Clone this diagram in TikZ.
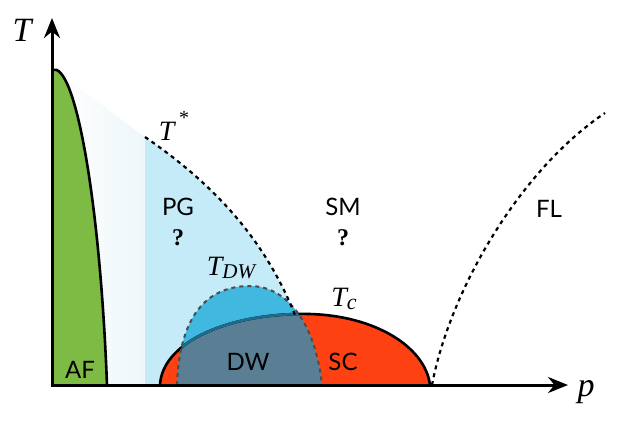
\documentclass[tikz,border=0pt]{standalone}
\usepackage{fontspec}
\setmainfont{Liberation Serif}
\newfontfamily\labfont{Lato}
\usetikzlibrary{arrows.meta}
\definecolor{afgreen}{HTML}{7DBB45}
\definecolor{pgblue}{HTML}{C6EBF8}
\definecolor{faint}{HTML}{EEF7FA}
\definecolor{scred}{HTML}{FE4113}
\definecolor{dwblue}{HTML}{40B8E0}
\definecolor{dwgray}{HTML}{5A7F94}
\definecolor{teal}{HTML}{1D6C8C}
\tikzset{
  region/.style={font=\labfont\fontsize{24}{28}\selectfont},
  qmark/.style={font=\bfseries\fontsize{24}{28}\selectfont},
  tlabel/.style={font=\itshape\fontsize{28}{32}\selectfont},
  axislab/.style={font=\itshape\fontsize{34}{38}\selectfont},
  axisline/.style={line width=3pt,-{Stealth[length=20pt,width=16pt]}},
  boundary/.style={line width=2.6pt},
  dotline/.style={line width=2.2pt,dash pattern=on 4pt off 4pt},
}
\begin{document}
\begin{tikzpicture}[x=1pt,y=-1pt]
\useasboundingbox (0,0) rectangle (623,431);
% faint region
\shade[left color=white,right color=faint] (52,68) -- (145,137) -- (145,385) -- (52,385) -- cycle;
% pseudogap
\fill[pgblue] (145,137) .. controls (215,185) and (265,240) .. (295,315) -- (322,385) -- (145,385) -- cycle;
% SC dome
\fill[scred] (160,385) .. controls (162,345) and (220,316) .. (297,314)
  .. controls (370,312) and (425,345) .. (430,385) -- cycle;
% DW dome
\begin{scope}
\clip (177,385) .. controls (180,300) and (220,286) .. (250,286)
  .. controls (285,286) and (315,320) .. (322,385) -- cycle;
\fill[dwblue] (170,280) rectangle (330,386);
\fill[dwgray] (160,385) .. controls (162,345) and (220,316) .. (297,314)
  .. controls (370,312) and (425,345) .. (430,385) -- cycle;
\end{scope}
% SC boundary
\draw[boundary] (160,385) .. controls (162,345) and (220,316) .. (297,314)
  .. controls (370,312) and (425,345) .. (430,385);
\begin{scope}
\clip (177,385) .. controls (180,300) and (220,286) .. (250,286)
  .. controls (285,286) and (315,320) .. (322,385) -- cycle;
\draw[boundary,teal] (160,385) .. controls (162,345) and (220,316) .. (297,314)
  .. controls (370,312) and (425,345) .. (430,385);
\end{scope}
% DW outline
\draw[dotline,black!70,line width=2pt] (177,385) .. controls (180,300) and (220,286) .. (250,286)
  .. controls (285,286) and (315,320) .. (322,385);
% T* line
\draw[dotline] (145,137) .. controls (215,185) and (265,240) .. (295,315);
% FL line
\draw[dotline] (432,385) .. controls (450,290) and (520,170) .. (605,113);
% AF
\fill[afgreen] (52,385) -- (52,70) .. controls (75,60) and (100,200) .. (107,385) -- cycle;
\draw[boundary] (52,70) .. controls (75,60) and (100,200) .. (107,385);
% axes
\coordinate (O) at (52,385);
\coordinate (Ttip) at (52,18);
\coordinate (ptip) at (568,385);
\draw[axisline] (O) -- (Ttip);
\draw[axisline] ([xshift=-1.5pt]O) -- (ptip);
% labels
\node[axislab] (Tlab) at (22,30) {T};
\node[axislab] (plab) at (586,392) {p};
\node[tlabel] (Tstar) at (174,126) {T\,\raisebox{1.2ex}{\fontsize{20}{20}\selectfont\upshape*}};
\node[tlabel] (Tdw) at (231,268) {T\raisebox{-0.3ex}{\fontsize{21}{21}\selectfont\itshape DW}};
\node[tlabel] (Tc) at (344,299) {T\raisebox{-0.3ex}{\fontsize{22}{22}\selectfont\itshape c}};
\node[region] (PG) at (178,207) {PG};
\node[qmark] (q1) at (178,238) {?};
\node[region] (SM) at (343,207) {SM};
\node[qmark] (q2) at (343,238) {?};
\node[region] (FL) at (549,209) {FL};
\node[region] (AF) at (80,370) {AF};
\node[region] (DW) at (248,362) {DW};
\node[region] (SC) at (343,362) {SC};
\end{tikzpicture}
\end{document}
